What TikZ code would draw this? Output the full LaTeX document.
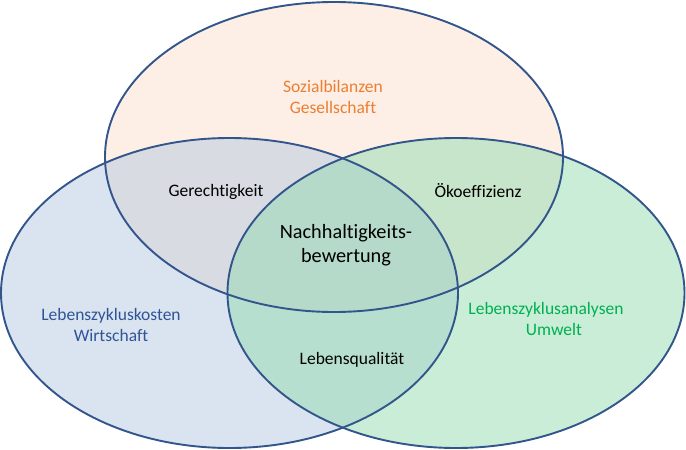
\documentclass[tikz,border=0pt]{standalone}
\usepackage{fontspec}
\setmainfont{Carlito}[Ligatures=NoCommon]
\definecolor{sozialfill}{RGB}{251,223,203}
\definecolor{kostenfill}{RGB}{181,199,225}
\definecolor{umweltfill}{RGB}{147,219,175}
\definecolor{rimblue}{RGB}{50,85,140}
\definecolor{sozialtext}{RGB}{237,125,49}
\definecolor{kostentext}{RGB}{47,85,151}
\definecolor{umwelttext}{RGB}{0,176,80}

\begin{document}
\begin{tikzpicture}[x=1pt,y=-1pt,
  area/.style={fill opacity=0.5},
  rim/.style={draw=rimblue,line width=1.9pt},
  lbl/.style={font=\fontsize{17.5}{21.4}\selectfont,align=center,inner sep=0pt},
  core/.style={font=\fontsize{20.3}{24.5}\selectfont,align=center,inner sep=0pt}]
  \useasboundingbox (0,0) rectangle (686,450);
  % fills
  \fill[sozialfill,area] (334,157) ellipse (229 and 155);
  \fill[kostenfill,area] (229.5,293) ellipse (228.5 and 155);
  \fill[umweltfill,area] (456,293) ellipse (228.5 and 155);
  % outlines
  \draw[rim] (334,157) ellipse (229 and 155);
  \draw[rim] (229.5,293) ellipse (228.5 and 155);
  \draw[rim] (456,293) ellipse (228.5 and 155);
  % labels
  \node[lbl,text=sozialtext] (sozial) at (333,97) {Sozialbilanzen\\Gesellschaft};
  \node[lbl,text=kostentext] (kosten) at (111,325) {Lebenszykluskosten\\Wirtschaft};
  \node[lbl,text=umwelttext] (umwelt) at (546,319) {Lebenszyklusanalysen\\\hspace*{16pt}Umwelt};
  \node[lbl] (gerecht) at (216,192) {Gerechtigkeit};
  \node[lbl] (oeko) at (478,191) {Ökoeffizienz};
  \node[lbl] (qualitaet) at (352,360) {Lebensqualität};
  \node[core] (bewertung) at (346,245) {Nachhaltigkeits-\\bewertung};
\end{tikzpicture}
\end{document}
